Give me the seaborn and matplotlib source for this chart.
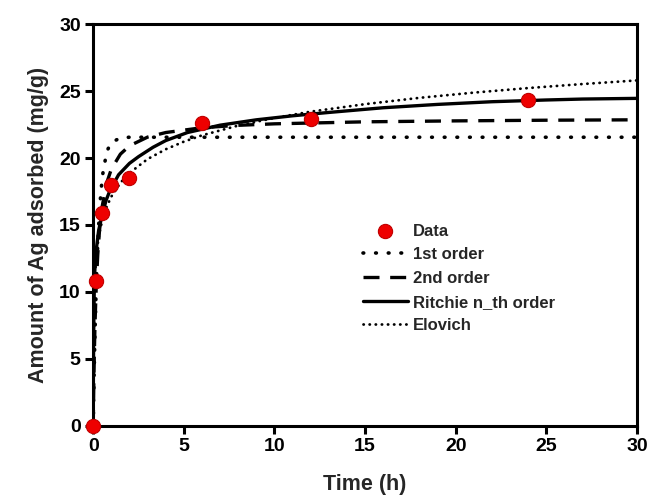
import matplotlib
matplotlib.use("Agg")
import matplotlib.pyplot as plt
import seaborn as sns
import pandas as pd

# ---- data ----
data_t = [0, 0.17, 0.5, 1, 2, 6, 12, 24]
data_q = [0, 10.8, 15.9, 18.0, 18.5, 22.6, 22.9, 24.35]

first_t = [0, 0.03, 0.06, 0.1, 0.17, 0.25, 0.35, 0.5, 0.75, 1, 1.5, 2, 3, 5, 10, 20, 30]
first_q = [0, 2.44, 4.6, 7.1, 10.6, 13.6, 16.2, 18.6, 20.5, 21.16, 21.5, 21.55, 21.55, 21.55, 21.55, 21.55, 21.55]

second_t = [0, 0.03, 0.06, 0.1, 0.17, 0.25, 0.35, 0.5, 0.75, 1, 1.5, 2, 3, 4, 6, 8, 10, 15, 20, 25, 30]
second_q = [0, 3.0, 5.3, 7.67, 10.57, 12.78, 14.64, 16.43, 18.16, 19.17, 20.29, 20.91, 21.56, 21.9, 22.26, 22.44,
            22.55, 22.7, 22.77, 22.82, 22.85]

ritchie_t = [0, 0.01, 0.03, 0.06, 0.1, 0.19, 0.3, 0.47, 0.7, 0.93, 1.4, 2, 2.5, 3.3, 4, 5.2, 7, 9, 11, 13, 16, 19,
             22, 25, 27, 30]
ritchie_q = [0, 4.0, 7.5, 10.5, 12.0, 13.4, 14.6, 15.6, 16.8, 17.6, 18.75, 19.6, 20.1, 20.8, 21.3, 21.9, 22.45,
             22.85, 23.15, 23.4, 23.75, 24.0, 24.2, 24.33, 24.4, 24.45]

elovich_t = [0, 0.005, 0.01, 0.02, 0.05, 0.1, 0.17, 0.25, 0.35, 0.5, 0.75, 1, 1.5, 2, 3, 4, 5, 6, 8, 10, 12, 15,
             18, 21, 24, 27, 30]
elovich_q = [0, 4.16, 5.66, 7.29, 9.53, 11.27, 12.6, 13.59, 14.45, 15.36, 16.39, 17.12, 18.15, 18.88, 19.92, 20.65,
             21.22, 21.69, 22.42, 22.99, 23.46, 24.02, 24.49, 24.88, 25.22, 25.52, 25.79]

x_ticks = [0, 5, 10, 15, 20, 25, 30]
y_ticks = [0, 5, 10, 15, 20, 25, 30]

# ---- style ----
sns.set_style("ticks")
plt.rcParams["font.family"] = ["Liberation Sans", "DejaVu Sans"]
plt.rcParams["font.weight"] = "bold"

fig = plt.figure(figsize=(6.5, 4.99), dpi=100)
ax = fig.add_axes([0.1434, 0.1463, 0.98 - 0.1434, 0.9519 - 0.1463])

lw = 2.4
sns.lineplot(x=first_t, y=first_q, ax=ax, color="black", lw=2.6, label="1st order",
             linestyle=(0, (0.2, 3.3)), dash_capstyle="round", sort=False)
sns.lineplot(x=second_t, y=second_q, ax=ax, color="black", lw=lw, label="2nd order",
             linestyle=(0, (4.8, 3.2)), sort=False)
sns.lineplot(x=ritchie_t, y=ritchie_q, ax=ax, color="black", lw=lw, label="Ritchie n_th order",
             linestyle="-", sort=False)
sns.lineplot(x=elovich_t, y=elovich_q, ax=ax, color="black", lw=2.0, label="Elovich",
             linestyle=(0, (0.1, 2.1)), dash_capstyle="round", sort=False)
sns.scatterplot(x=data_t, y=data_q, ax=ax, color="#ee0000", edgecolor="#c00000", linewidth=0.8,
                s=105, zorder=5, label="Data", clip_on=False)

ax.set_xlim(0, 30)
ax.set_ylim(0, 30)
ax.set_xticks(x_ticks)
ax.set_yticks(y_ticks)
ax.set_xlabel("Time (h)", fontsize=15.5, fontweight="bold", labelpad=13)
ax.set_ylabel("Amount of Ag adsorbed (mg/g)", fontsize=15.5, fontweight="bold", labelpad=7)

for s in ax.spines.values():
    s.set_linewidth(2.2)
    s.set_color("black")
    s.set_visible(True)
ax.tick_params(axis="both", which="major", direction="out", length=6, width=2.2,
               labelsize=14, colors="black", pad=3)
ax.tick_params(top=False, right=False)
for lab in ax.get_xticklabels() + ax.get_yticklabels():
    lab.set_fontweight("bold")

handles, labels = ax.get_legend_handles_labels()
order = [labels.index(n) for n in ["Data", "1st order", "2nd order", "Ritchie n_th order", "Elovich"]]
leg = ax.legend([handles[i] for i in order], [labels[i] for i in order],
                loc="upper left", bbox_to_anchor=(0.483, 0.52), frameon=False,
                prop={"weight": "bold", "size": 12}, handlelength=2.75, handletextpad=0.3,
                labelspacing=0.52, borderaxespad=0)

fig.savefig("out.png", dpi=100)
